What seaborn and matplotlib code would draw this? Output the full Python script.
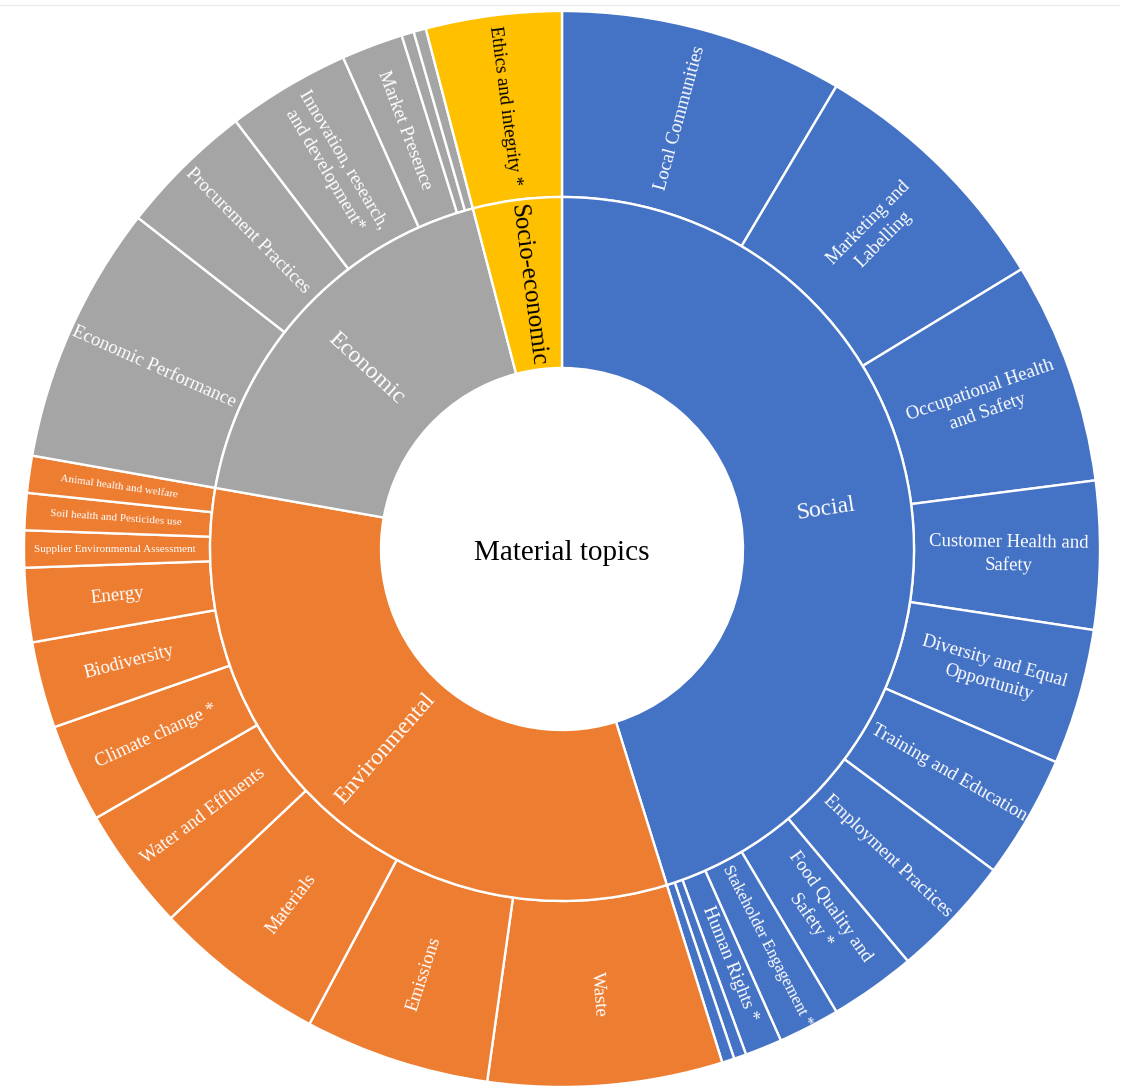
import numpy as np
import matplotlib
matplotlib.use("Agg")
import matplotlib.pyplot as plt
import seaborn as sns
from matplotlib.lines import Line2D

# ---------------- data ----------------
groups = ["Social", "Environmental", "Economic", "Socio-economic"]
group_colors = ["#4472C4", "#ED7D31", "#A5A5A5", "#FFC000"]
group_text_colors = ["white", "white", "white", "black"]

social_topics = ["Local Communities", "Marketing and\nLabelling", "Occupational Health\nand Safety",
                 "Customer Health and\nSafety", "Diversity and Equal\nOpportunity",
                 "Training and Education", "Employment Practices", "Food Quality and\nSafety *",
                 "Stakeholder Engagement *", "Human Rights *", "", ""]
social_values = [23, 21, 18, 12, 11, 10, 10, 7, 5, 3, 1, 1]

env_topics = ["Waste", "Emissions", "Materials", "Water and Effluents", "Climate change *",
              "Biodiversity", "Energy", "Supplier Environmental Assessment",
              "Soil health and Pesticides use", "Animal health and welfare"]
env_values = [19, 15, 14, 10, 8, 7, 6, 3, 3, 3]

eco_topics = ["Economic Performance", "Procurement Practices",
              "Innovation, research,\nand development*", "Market Presence", "", ""]
eco_values = [21, 11, 10, 5, 1, 1]

socio_topics = ["Ethics and integrity *"]
socio_values = [11]

center_title = "Material topics"

# ---------------- figure ----------------
sns.set_theme(style="white")
plt.rcParams["font.family"] = ["Liberation Serif", "DejaVu Serif"]

W, H = 1125, 1086
fig = plt.figure(figsize=(W / 100, H / 100), dpi=100)
ax = fig.add_axes([0, 0, 1, 1])

R_OUT, R_MID, R_IN = 538, 352, 181

topic_lists = [social_topics, env_topics, eco_topics, socio_topics]
value_lists = [social_values, env_values, eco_values, socio_values]

outer_vals, outer_cols, outer_labels, outer_tcols = [], [], [], []
for lab, vals, col, tc in zip(topic_lists, value_lists, group_colors, group_text_colors):
    outer_vals += vals
    outer_labels += lab
    outer_cols += [col] * len(vals)
    outer_tcols += [tc] * len(vals)
inner_vals = [sum(v) for v in value_lists]

wp = dict(edgecolor="white", linewidth=1.7)
ax.pie(outer_vals, radius=R_OUT, colors=outer_cols, startangle=90, counterclock=False,
       wedgeprops=dict(width=R_OUT - R_MID, **wp))
ax.pie(inner_vals, radius=R_MID, colors=group_colors, startangle=90, counterclock=False,
       wedgeprops=dict(width=R_MID - R_IN, **wp))

ax.set_xlim(-562, W - 562)
ax.set_ylim(-(H - 549), 549)
ax.set_aspect("equal")
ax.axis("off")


def place_labels(vals, labels, tcolors, r, sizes):
    total = sum(outer_vals)
    cum = 0
    for v, lab, tc, fs in zip(vals, labels, tcolors, sizes):
        mid = (cum + v / 2) / total * 360.0
        cum += v
        if not lab:
            continue
        th = np.deg2rad(mid)
        x, y = r * np.sin(th), r * np.cos(th)
        rot = 90 - mid if mid <= 180 else 270 - mid
        ax.text(x, y, lab, rotation=rot, rotation_mode="anchor", ha="center", va="center",
                multialignment="center", color=tc, fontsize=fs, linespacing=1.4)


small = {"Supplier Environmental Assessment", "Soil health and Pesticides use",
         "Animal health and welfare"}
outer_sizes = [8 if l in small else (12 if l.startswith("Stakeholder") else 13.5)
               for l in outer_labels]
place_labels(outer_vals, outer_labels, outer_tcols, (R_OUT + R_MID) / 2 + 2, outer_sizes)

inner_sizes = [17, 17, 17, 18]
place_labels(inner_vals, groups, group_text_colors, (R_MID + R_IN) / 2, inner_sizes)

ax.text(0, -4, center_title, ha="center", va="center", fontsize=21, color="black")

fig.add_artist(Line2D([0.0, 0.995], [1 - 5 / H, 1 - 5 / H], transform=fig.transFigure,
                      color="#ececec", linewidth=1))

fig.savefig("out.png", dpi=100, facecolor="white")
